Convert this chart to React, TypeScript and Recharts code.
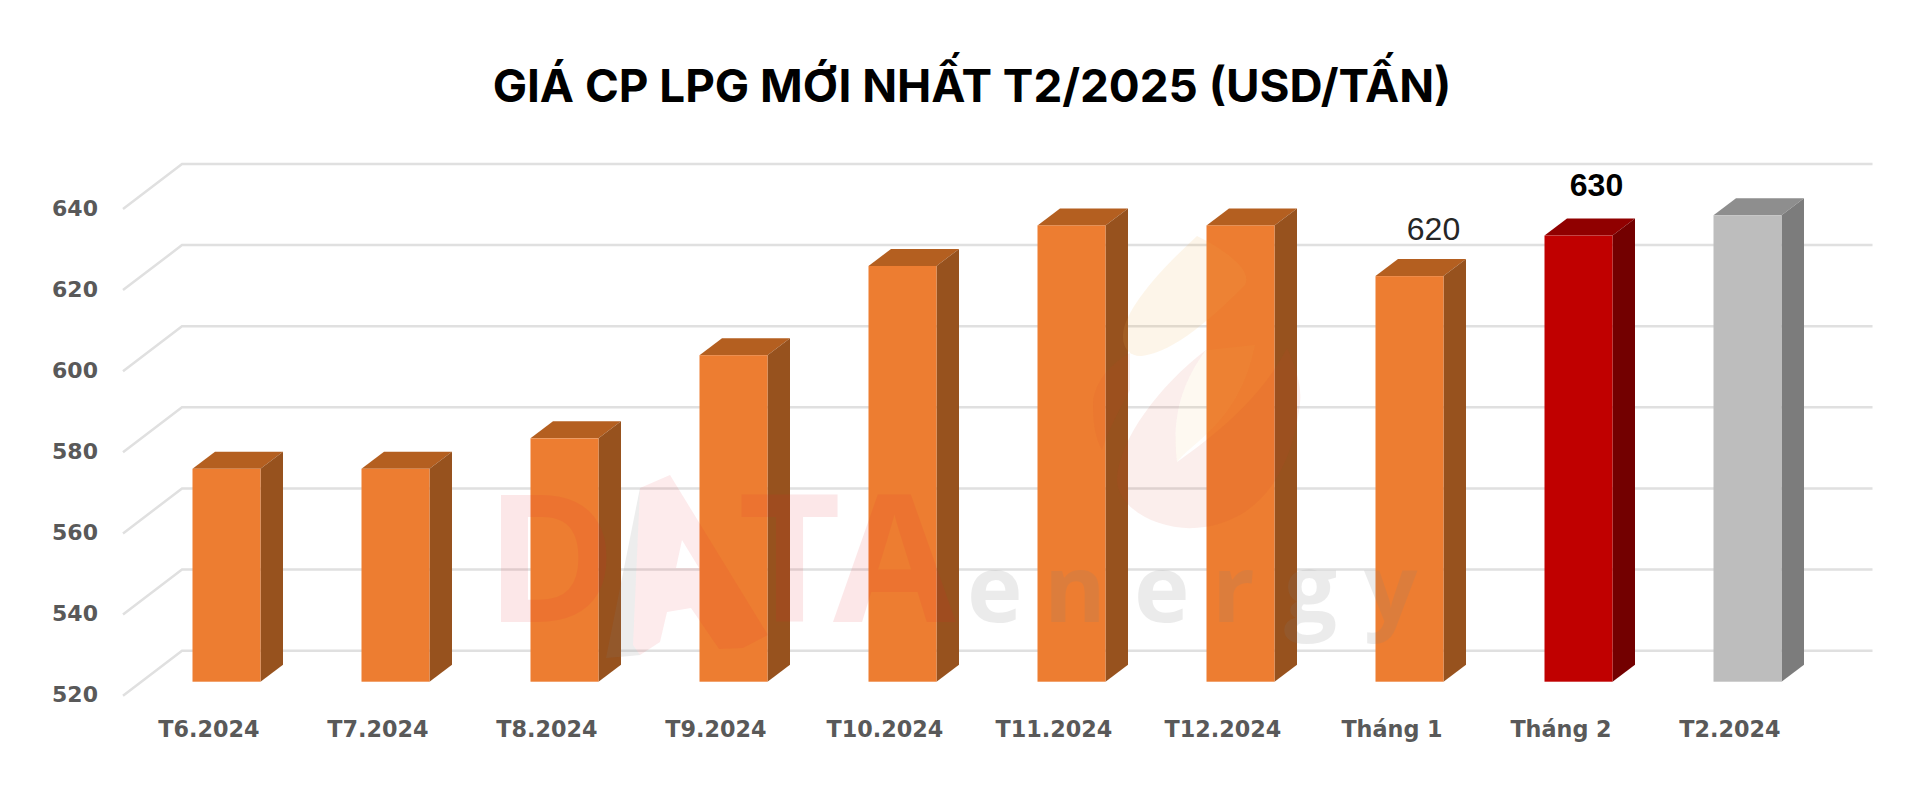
import { Bar, BarChart, CartesianGrid, LabelList, XAxis, YAxis } from "recharts";

const categories = ["T6.2024", "T7.2024", "T8.2024", "T9.2024", "T10.2024", "T11.2024", "T12.2024", "Tháng 1", "Tháng 2", "T2.2024"];
const prices = [572.5, 572.5, 580, 600.5, 622.5, 632.5, 632.5, 620, 630, 635];
const priceTicks = [520, 540, 560, 580, 600, 620, 640];

const rows = categories.map((month, i) => ({ month, price: prices[i] }));

const DEPTH_X = 22.5;
const DEPTH_Y = 17;
const AXIS_FONT = "'DejaVu Sans', sans-serif";
const LABEL_FONT = "'Liberation Sans', Arial, sans-serif";

function barColors(index: number) {
  if (index === 8) return { front: "#c00000", top: "#900000", side: "#730000" };
  if (index === 9) return { front: "#bdbdbd", top: "#8e8e8e", side: "#7c7c7c" };
  return { front: "#ed7d31", top: "#b45f20", side: "#97521e" };
}

// front face plus top and side, sized from what the bar scale gives us
function Box3D(props: any) {
  const { x, y, width: w, height: h, index } = props;
  const c = barColors(index);
  return (
    <g>
      <path d={`M${x},${y}L${x + DEPTH_X},${y - DEPTH_Y}L${x + w + DEPTH_X},${y - DEPTH_Y}L${x + w},${y}Z`} fill={c.top} />
      <path d={`M${x + w},${y}L${x + w + DEPTH_X},${y - DEPTH_Y}L${x + w + DEPTH_X},${y + h - DEPTH_Y}L${x + w},${y + h}Z`} fill={c.side} />
      <rect x={x} y={y} width={w} height={h} fill={c.front} />
    </g>
  );
}

// wall and floor line: short slanted piece on the left, long run along the back
function GridLine(props: any) {
  const { x1, x2, y1 } = props;
  return (
    <path
      d={`M${x1 - 18.5},${y1 + 14}L${x1 + 40.5},${y1 - 31}L${x2 + 41},${y1 - 31}`}
      fill="none"
      stroke="#e0e0e0"
      strokeWidth={2.5}
    />
  );
}

function MonthTick({ x, y, payload }: any) {
  return (
    <text x={x - 17} y={y + 47.5} textAnchor="middle" fontFamily={AXIS_FONT} fontWeight={700} fontSize={22.3} fill="#595959">
      {payload.value}
    </text>
  );
}

function PriceTick({ y, payload }: any) {
  return (
    <text x={75} y={y + 20.5} textAnchor="middle" fontFamily={AXIS_FONT} fontWeight={700} fontSize={22} fill="#595959">
      {payload.value}
    </text>
  );
}

function PriceLabel({ x, y, width, value, index }: any) {
  if (index === 7) {
    return (
      <text x={x + width / 2 + 24} y={y - 36} textAnchor="middle" fontFamily={LABEL_FONT} fontSize={32} fill="#262626">
        {value}
      </text>
    );
  }
  if (index === 8) {
    return (
      <text x={x + width / 2 + 18} y={y - 39.5} textAnchor="middle" fontFamily={LABEL_FONT} fontWeight={700} fontSize={32} fill="#000">
        {value}
      </text>
    );
  }
  return null;
}

const energyLetters = ["e", "n", "e", "r", "g", "y"];
const energyX = [967, 1044, 1134, 1212, 1284, 1364];

function Watermark() {
  return (
    <svg width={1920} height={800} style={{ position: "absolute", left: 0, top: 0, pointerEvents: "none" }}>
      <text x={972} y={102} textAnchor="middle" fontFamily="Inter, sans-serif" fontWeight={700} fontSize={45.8} fill="#000">
        GIÁ CP LPG MỚI NHẤT T2/2025 (USD/TẤN)
      </text>
      <g fontFamily="'Open Sans', sans-serif" fontWeight={700} fontSize={178} fill="#e8202a" opacity={0.1}>
        <text x={485} y={622}>D</text>
        <text x={738} y={622}>
          T<tspan dx={-8}>A</tspan>
        </text>
      </g>
      <path
        fillRule="evenodd"
        d="M670,475L768,635L743,648L719,649L691,608L667,612L660,642L640,655L633,645L640,488ZM682,540L676,568L699,568Z"
        fill="#e8202a"
        opacity={0.09}
      />
      <path d="M640,488L606,658L630,656L640,655L633,645Z" fill="#7f7f7f" opacity={0.14} />
      <g fontFamily="'Open Sans', sans-serif" fontWeight={700} fontSize={94} fill="#7f7f7f" opacity={0.15}>
        {energyLetters.map((ch, i) => (
          <text key={i} x={energyX[i]} y={622}>{ch}</text>
        ))}
      </g>
      <path d="M1197,236C1160,270 1124,310 1123,335C1122,350 1132,357 1142,356C1175,352 1215,315 1245,285C1253,270 1225,250 1197,236Z" fill="#f2b04a" opacity={0.12} />
      <path d="M1206,350C1160,385 1118,440 1117,480C1118,510 1160,530 1195,528C1245,525 1290,490 1300,403C1302,385 1295,365 1287,348C1260,400 1215,435 1177,462C1172,420 1180,385 1206,350Z" fill="#d8442a" opacity={0.09} />
      <path d="M1130,353C1108,365 1093,385 1093,405C1093,425 1096,440 1102,450C1110,425 1125,400 1130,390Z" fill="#d8442a" opacity={0.08} />
      <path d="M1206,350C1180,385 1172,420 1177,462C1195,440 1240,420 1255,345Z" fill="#f2b04a" opacity={0.08} />
    </svg>
  );
}

export default function App() {
  return (
    <div style={{ position: "absolute", left: 0, top: 0, width: 1920, height: 800, background: "#fff" }}>
      <BarChart width={1920} height={800} data={rows} margin={{ top: 195, right: 88.5, left: 0, bottom: 0 }}>
        <CartesianGrid vertical={false} horizontal={(p: any) => <GridLine key={p.key} {...p} />} />
        <XAxis dataKey="month" height={118.3} axisLine={false} tickLine={false} interval={0} tick={<MonthTick />} />
        <YAxis width={141.5} domain={[520, 640]} ticks={priceTicks} axisLine={false} tickLine={false} tick={<PriceTick />} />
        <Bar dataKey="price" barSize={68} shape={<Box3D />} isAnimationActive={false}>
          <LabelList dataKey="price" content={<PriceLabel />} />
        </Bar>
      </BarChart>
      <Watermark />
    </div>
  );
}
